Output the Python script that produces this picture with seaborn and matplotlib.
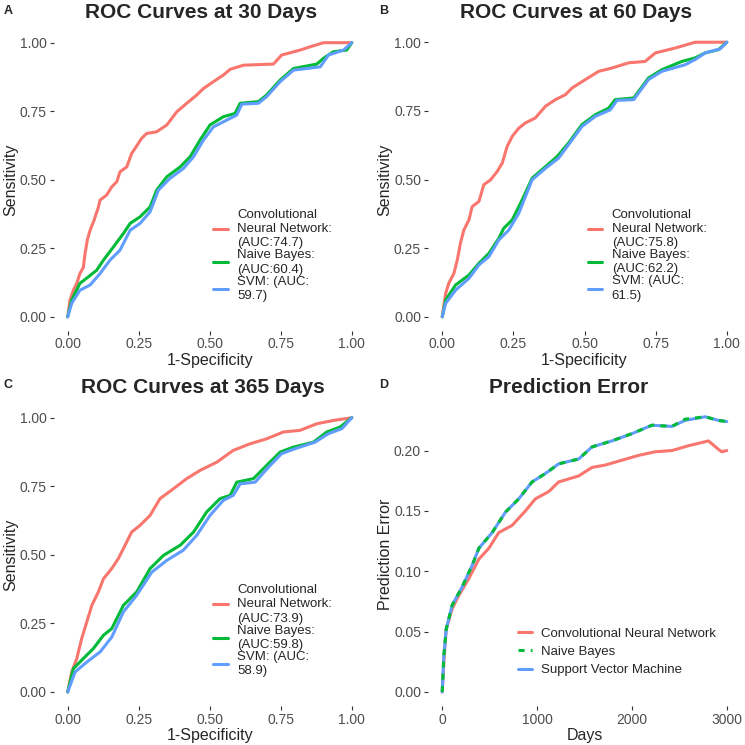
import numpy as np
import pandas as pd
import matplotlib.pyplot as plt
import seaborn as sns

# colours (ggplot default hue palette)
c_cnn = '#F8766D'
c_nb = '#00BA38'
c_svm = '#619CFF'

# ---- ROC at 30 days ----
a_cnn_x = [0, 0.008, 0.02, 0.032, 0.043, 0.055, 0.061, 0.069, 0.079, 0.093, 0.108, 0.114, 0.137, 0.155, 0.173, 0.184, 0.208, 0.225, 0.237, 0.26, 0.278, 0.313, 0.349, 0.384, 0.419, 0.454, 0.478, 0.513, 0.548, 0.572, 0.619, 0.724, 0.753, 0.818, 0.853, 0.90, 1.0]
a_cnn_y = [0, 0.061, 0.097, 0.122, 0.158, 0.18, 0.23, 0.28, 0.316, 0.353, 0.40, 0.426, 0.444, 0.474, 0.493, 0.529, 0.547, 0.596, 0.614, 0.651, 0.669, 0.675, 0.70, 0.748, 0.779, 0.809, 0.833, 0.858, 0.882, 0.903, 0.918, 0.922, 0.955, 0.973, 0.985, 1.0, 1.0]
a_nb_x = [0, 0.014, 0.043, 0.073, 0.102, 0.126, 0.161, 0.196, 0.22, 0.255, 0.29, 0.313, 0.349, 0.396, 0.431, 0.466, 0.501, 0.548, 0.589, 0.607, 0.671, 0.70, 0.748, 0.795, 0.877, 0.90, 0.935, 0.982, 1.0]
a_nb_y = [0, 0.061, 0.122, 0.146, 0.17, 0.207, 0.255, 0.304, 0.341, 0.365, 0.401, 0.462, 0.511, 0.547, 0.584, 0.645, 0.70, 0.73, 0.742, 0.779, 0.785, 0.809, 0.864, 0.906, 0.922, 0.943, 0.967, 0.973, 1.0]
a_svm_x = [0, 0.014, 0.043, 0.079, 0.114, 0.149, 0.184, 0.22, 0.255, 0.29, 0.319, 0.36, 0.407, 0.443, 0.478, 0.513, 0.572, 0.595, 0.613, 0.671, 0.70, 0.748, 0.795, 0.889, 0.918, 0.971, 1.0]
a_svm_y = [0, 0.049, 0.097, 0.116, 0.158, 0.207, 0.243, 0.316, 0.341, 0.383, 0.462, 0.505, 0.541, 0.584, 0.645, 0.693, 0.724, 0.736, 0.776, 0.779, 0.803, 0.858, 0.90, 0.912, 0.955, 0.973, 1.0]

# ---- ROC at 60 days ----
b_cnn_x = [0, 0.012, 0.023, 0.041, 0.053, 0.064, 0.076, 0.094, 0.105, 0.129, 0.146, 0.17, 0.193, 0.211, 0.228, 0.246, 0.269, 0.292, 0.327, 0.363, 0.398, 0.433, 0.456, 0.503, 0.55, 0.596, 0.655, 0.713, 0.749, 0.819, 0.889, 1.0]
b_cnn_y = [0, 0.085, 0.122, 0.158, 0.207, 0.268, 0.316, 0.353, 0.401, 0.42, 0.481, 0.499, 0.529, 0.56, 0.62, 0.657, 0.687, 0.706, 0.724, 0.767, 0.791, 0.809, 0.833, 0.864, 0.894, 0.906, 0.925, 0.93, 0.961, 0.979, 1.0, 1.0]
b_nb_x = [0, 0.012, 0.047, 0.094, 0.129, 0.164, 0.199, 0.216, 0.246, 0.281, 0.316, 0.363, 0.404, 0.444, 0.491, 0.538, 0.585, 0.608, 0.673, 0.725, 0.772, 0.842, 0.889, 0.924, 0.971, 1.0]
b_nb_y = [0, 0.061, 0.116, 0.152, 0.195, 0.231, 0.286, 0.322, 0.353, 0.426, 0.505, 0.547, 0.584, 0.633, 0.70, 0.736, 0.76, 0.791, 0.797, 0.87, 0.90, 0.93, 0.943, 0.961, 0.973, 1.0]
b_svm_x = [0, 0.012, 0.047, 0.094, 0.129, 0.164, 0.199, 0.234, 0.269, 0.316, 0.363, 0.409, 0.444, 0.491, 0.538, 0.591, 0.614, 0.673, 0.725, 0.772, 0.854, 0.889, 0.924, 0.977, 1.0]
b_svm_y = [0, 0.049, 0.097, 0.14, 0.189, 0.219, 0.28, 0.316, 0.377, 0.499, 0.541, 0.578, 0.627, 0.693, 0.73, 0.754, 0.788, 0.791, 0.864, 0.894, 0.918, 0.937, 0.961, 0.976, 1.0]

# ---- ROC at 365 days ----
c_cnn_x = [0, 0.014, 0.032, 0.049, 0.067, 0.085, 0.108, 0.126, 0.155, 0.178, 0.202, 0.225, 0.255, 0.29, 0.325, 0.372, 0.419, 0.466, 0.525, 0.583, 0.642, 0.70, 0.759, 0.818, 0.877, 0.935, 1.0]
c_cnn_y = [0, 0.073, 0.122, 0.194, 0.255, 0.316, 0.365, 0.413, 0.45, 0.486, 0.535, 0.583, 0.608, 0.644, 0.705, 0.741, 0.778, 0.808, 0.838, 0.881, 0.905, 0.923, 0.948, 0.954, 0.978, 0.99, 1.0]
c_nb_x = [0, 0.02, 0.055, 0.09, 0.126, 0.155, 0.196, 0.243, 0.29, 0.337, 0.396, 0.443, 0.489, 0.536, 0.572, 0.595, 0.654, 0.70, 0.748, 0.795, 0.865, 0.912, 0.959, 1.0]
c_nb_y = [0, 0.085, 0.122, 0.158, 0.207, 0.231, 0.316, 0.365, 0.45, 0.498, 0.535, 0.583, 0.656, 0.705, 0.717, 0.765, 0.778, 0.826, 0.875, 0.893, 0.911, 0.948, 0.966, 1.0]
c_svm_x = [0, 0.026, 0.067, 0.114, 0.155, 0.196, 0.243, 0.296, 0.349, 0.407, 0.454, 0.501, 0.548, 0.583, 0.607, 0.66, 0.707, 0.753, 0.80, 0.871, 0.918, 0.965, 1.0]
c_svm_y = [0, 0.073, 0.109, 0.146, 0.2, 0.292, 0.353, 0.437, 0.48, 0.517, 0.571, 0.644, 0.699, 0.717, 0.759, 0.765, 0.82, 0.869, 0.887, 0.911, 0.942, 0.96, 1.0]

# ---- prediction error ----
d_cnn_days = [0, 17, 42, 105, 175, 281, 386, 491, 596, 737, 877, 982, 1123, 1228, 1439, 1579, 1719, 1895, 2070, 2246, 2421, 2596, 2807, 2912, 2947, 3000]
d_cnn_err = [0, 0.025, 0.052, 0.069, 0.080, 0.094, 0.110, 0.119, 0.132, 0.138, 0.150, 0.160, 0.166, 0.174, 0.179, 0.186, 0.188, 0.192, 0.196, 0.199, 0.200, 0.204, 0.208, 0.201, 0.199, 0.200]
d_svm_days = [0, 17, 42, 105, 210, 316, 386, 526, 667, 807, 947, 1088, 1228, 1439, 1579, 1789, 2000, 2211, 2421, 2561, 2772, 2912, 3000]
d_svm_err = [0, 0.030, 0.052, 0.072, 0.087, 0.105, 0.119, 0.132, 0.149, 0.160, 0.174, 0.181, 0.189, 0.193, 0.203, 0.208, 0.214, 0.221, 0.220, 0.225, 0.228, 0.225, 0.224]
d_nb_days = [0, 17, 42, 105, 210, 316, 386, 526, 667, 807, 947, 1088, 1228, 1439, 1579, 1789, 2000, 2211, 2421, 2561, 2772, 2912, 3000]
d_nb_err = [0, 0.030, 0.052, 0.072, 0.087, 0.105, 0.119, 0.132, 0.149, 0.160, 0.174, 0.181, 0.189, 0.193, 0.203, 0.208, 0.214, 0.221, 0.220, 0.226, 0.228, 0.225, 0.224]

roc_panels = [
    ('A', 'ROC Curves at 30 Days', (a_cnn_x, a_cnn_y), (a_nb_x, a_nb_y), (a_svm_x, a_svm_y), ['74.7', '60.4', '59.7']),
    ('B', 'ROC Curves at 60 Days', (b_cnn_x, b_cnn_y), (b_nb_x, b_nb_y), (b_svm_x, b_svm_y), ['75.8', '62.2', '61.5']),
    ('C', 'ROC Curves at 365 Days', (c_cnn_x, c_cnn_y), (c_nb_x, c_nb_y), (c_svm_x, c_svm_y), ['73.9', '59.8', '58.9']),
]

sns.set_style('white')
plt.rcParams['font.family'] = ['Liberation Sans', 'DejaVu Sans']

W = 745.0
fig = plt.figure(figsize=(7.45, 7.45), dpi=100)

def px_axes(l, t, r, b):
    return fig.add_axes([l / W, 1 - b / W, (r - l) / W, (b - t) / W])

def style_axes(ax):
    for s in ax.spines.values():
        s.set_visible(False)
    ax.tick_params(length=3, width=0.8, color='#333333', labelcolor='#4D4D4D',
                   labelsize=10, pad=2, left=True, bottom=True)

# pixel boxes: left, top, right, bottom; title centre x, title baseline, letter baseline
boxes = [
    (53.5, 29.0, 366.0, 330.5, 201, 18.5, 13.5),
    (428.0, 28.5, 741.0, 330.5, 576, 18.5, 13.5),
    (53.5, 404.0, 366.0, 705.7, 203, 393.0, 388.0),
    (428.0, 403.0, 741.0, 705.7, 569, 393.0, 388.0),
]

for i, (letter, title, cnn, nb, svm, aucs) in enumerate(roc_panels):
    l, t, r, b, tx, ty, ly = boxes[i]
    ax = px_axes(l, t, r, b)
    labels = ['Convolutional\nNeural Network:\n(AUC:%s)' % aucs[0],
              'Naive Bayes:\n(AUC:%s)' % aucs[1],
              'SVM: (AUC:\n%s)' % aucs[2]]
    for (xs, ys), col, lab in zip([cnn, nb, svm], [c_cnn, c_nb, c_svm], labels):
        sns.lineplot(x=xs, y=ys, ax=ax, color=col, lw=2.2, label=lab,
                     estimator=None, sort=False)
    ax.set_xlim(-0.05, 1.05)
    ax.set_ylim(-0.05, 1.05)
    ax.set_xticks([0, 0.25, 0.5, 0.75, 1.0])
    ax.set_xticklabels(['0.00', '0.25', '0.50', '0.75', '1.00'])
    ax.set_yticks([0, 0.25, 0.5, 0.75, 1.0])
    ax.set_yticklabels(['0.00', '0.25', '0.50', '0.75', '1.00'])
    ax.set_xlabel('1-Specificity', fontsize=11.5, labelpad=1)
    ax.set_ylabel('Sensitivity', fontsize=11.5, labelpad=1)
    style_axes(ax)
    leg = ax.legend(loc='upper left', bbox_to_anchor=(0.49, 0.425), frameon=False,
                    fontsize=9.5, handlelength=1.1, handletextpad=0.7,
                    labelspacing=0.0, borderpad=0)
    for txt in leg.get_texts():
        txt.set_linespacing(1.25)
    fig.text(tx / W, 1 - ty / W, title, ha='center', va='baseline',
             fontsize=15, fontweight='bold')
    fig.text((4 if i % 2 == 0 else 379) / W, 1 - ly / W, letter, ha='left',
             va='baseline', fontsize=9, fontweight='bold')

# panel D
l, t, r, b, tx, ty, ly = boxes[3]
ax = px_axes(l, t, r, b)
sns.lineplot(x=d_cnn_days, y=d_cnn_err, ax=ax, color=c_cnn, lw=2.2,
             label='Convolutional Neural Network', estimator=None, sort=False)
sns.lineplot(x=d_svm_days, y=d_svm_err, ax=ax, color=c_svm, lw=2.2,
             label='Support Vector Machine', estimator=None, sort=False)
sns.lineplot(x=d_nb_days, y=d_nb_err, ax=ax, color=c_nb, lw=2.2,
             label='Naive Bayes', estimator=None, sort=False)
ax.lines[2].set_linestyle((0, (2, 2)))
ax.set_xlim(-150, 3150)
ax.set_ylim(-0.0114, 0.2394)
ax.set_xticks([0, 1000, 2000, 3000])
ax.set_yticks([0, 0.05, 0.10, 0.15, 0.20])
ax.set_yticklabels(['0.00', '0.05', '0.10', '0.15', '0.20'])
ax.set_xlabel('Days', fontsize=11.5, labelpad=1)
ax.set_ylabel('Prediction Error', fontsize=11.5, labelpad=1)
style_axes(ax)
h, lab = ax.get_legend_handles_labels()
order = [0, 2, 1]
leg = ax.legend([h[k] for k in order], [lab[k] for k in order], loc='upper left',
                bbox_to_anchor=(0.265, 0.28), frameon=False, fontsize=9.5,
                handlelength=1.1, handletextpad=0.7, labelspacing=0.45, borderpad=0)
fig.text(tx / W, 1 - ty / W, 'Prediction Error', ha='center', va='baseline',
         fontsize=15, fontweight='bold')
fig.text(379 / W, 1 - ly / W, 'D', ha='left', va='baseline', fontsize=9, fontweight='bold')

fig.savefig('out.png', dpi=100, facecolor='white')
